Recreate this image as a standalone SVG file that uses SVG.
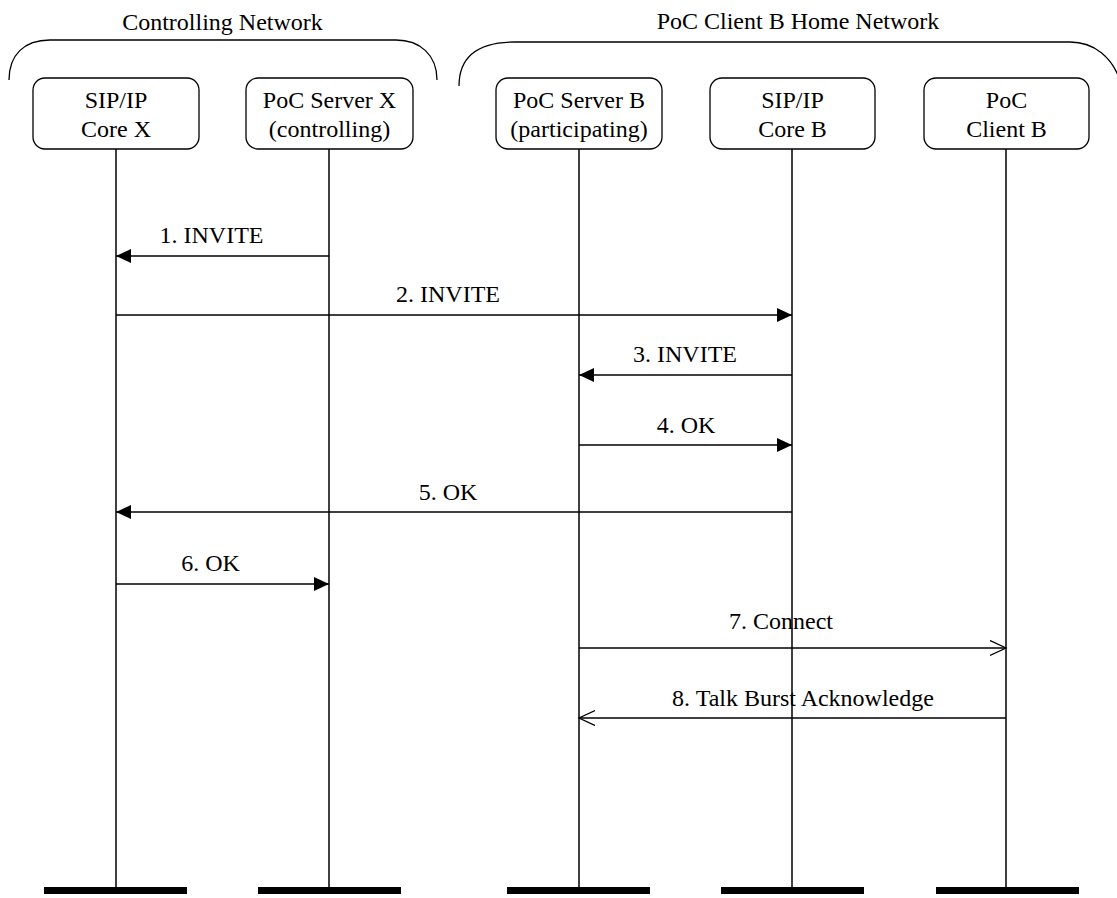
<svg xmlns="http://www.w3.org/2000/svg" width="1117" height="898" viewBox="0 0 1117 898">
<style>
text{font-family:"Liberation Serif","Times New Roman",serif;font-size:24px;fill:#000;text-anchor:middle}
.box{fill:#fff;stroke:#000;stroke-width:1.3}
.life{stroke:#000;stroke-width:1.5;fill:none}
.bar{fill:#000}
.brk{fill:none;stroke:#000;stroke-width:1.3}
.msg{stroke:#000;stroke-width:1.5;fill:none}
.f{marker-end:url(#fill)}
.o{marker-end:url(#open)}
</style>
<defs>
<marker id="fill" markerUnits="userSpaceOnUse" markerWidth="16" markerHeight="15" refX="15" refY="7" orient="auto" viewBox="0 0 16 15">
<path d="M0,0 L15,7 L0,14 z" fill="#000"/>
</marker>
<marker id="open" markerUnits="userSpaceOnUse" markerWidth="18" markerHeight="17" refX="16" refY="8" orient="auto" viewBox="0 0 18 17">
<path d="M0,0.5 L16,8 L0,15.5" fill="none" stroke="#000" stroke-width="1.3"/>
</marker>
</defs>
<g id="networks">
<path class="brk" d="M9 80 C9 55 24 40 50 40 L396 40 C420 40 437 55 437 80"/>
<text x="222.5" y="30">Controlling Network</text>
<path class="brk" d="M459 86 C459 60 474 42 515 42 L1070 42 C1095 42 1112 58 1120 80"/>
<text x="798" y="29">PoC Client B Home Network</text>
</g>
<g id="sipx">
<line class="life" x1="116" y1="149" x2="116" y2="888"/>
<rect class="box" x="33" y="78" width="166" height="71" rx="12"/>
<text x="116" y="108">SIP/IP</text><text x="116" y="137">Core X</text>
<rect class="bar" x="44" y="887" width="143" height="7"/>
</g>
<g id="pocx">
<line class="life" x1="329" y1="149" x2="329" y2="888"/>
<rect class="box" x="246" y="78" width="167" height="71" rx="12"/>
<text x="329.5" y="108">PoC Server X</text><text x="329.5" y="137">(controlling)</text>
<rect class="bar" x="258" y="887" width="143" height="7"/>
</g>
<g id="pocb">
<line class="life" x1="579" y1="149" x2="579" y2="888"/>
<rect class="box" x="496" y="78" width="166" height="71" rx="12"/>
<text x="579" y="108">PoC Server B</text><text x="579" y="137">(participating)</text>
<rect class="bar" x="507" y="887" width="143" height="7"/>
</g>
<g id="sipb">
<line class="life" x1="792" y1="149" x2="792" y2="888"/>
<rect class="box" x="710" y="78" width="165" height="71" rx="12"/>
<text x="792.5" y="108">SIP/IP</text><text x="792.5" y="137">Core B</text>
<rect class="bar" x="721" y="887" width="143" height="7"/>
</g>
<g id="clientb">
<line class="life" x1="1006" y1="149" x2="1006" y2="888"/>
<rect class="box" x="924" y="78" width="165" height="71" rx="12"/>
<text x="1006.5" y="108">PoC</text><text x="1006.5" y="137">Client B</text>
<rect class="bar" x="936" y="887" width="143" height="7"/>
</g>
<g id="connectors">
<line class="msg f" x1="329" y1="256" x2="116" y2="256"/>
<text x="211.5" y="243">1. INVITE</text>
<line class="msg f" x1="116" y1="315" x2="792" y2="315"/>
<text x="448" y="302">2. INVITE</text>
<line class="msg f" x1="792" y1="375" x2="579" y2="375"/>
<text x="685" y="362">3. INVITE</text>
<line class="msg f" x1="579" y1="445" x2="792" y2="445"/>
<text x="686" y="433">4. OK</text>
<line class="msg f" x1="792" y1="512" x2="116" y2="512"/>
<text x="448" y="500">5. OK</text>
<line class="msg f" x1="116" y1="584" x2="329" y2="584"/>
<text x="210.5" y="571">6. OK</text>
<line class="msg o" x1="579" y1="648" x2="1006" y2="648"/>
<text x="781" y="629">7. Connect</text>
<line class="msg o" x1="1006" y1="718" x2="579" y2="718"/>
<text x="803" y="706">8. Talk Burst Acknowledge</text>
</g>
</svg>
